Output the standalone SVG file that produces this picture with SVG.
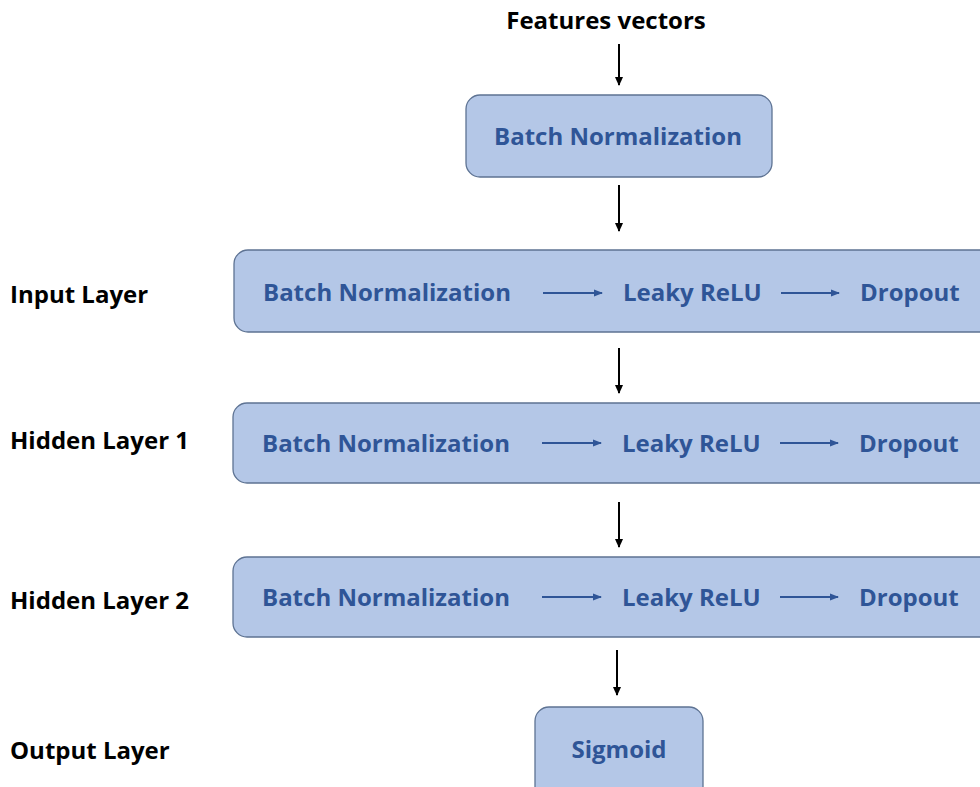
<svg xmlns="http://www.w3.org/2000/svg" width="980" height="787" viewBox="0 0 980 787">
<defs>
<marker id="ab" markerWidth="10" markerHeight="10" refX="8" refY="5" orient="auto" markerUnits="userSpaceOnUse"><path d="M0,1 L9,5 L0,9 Z" fill="#000"/></marker>
<marker id="abl" markerWidth="10" markerHeight="10" refX="8" refY="5" orient="auto" markerUnits="userSpaceOnUse"><path d="M0,1.5 L9,5 L0,8.5 Z" fill="#2f5597"/></marker>
</defs>
<style>
.box{fill:#b4c7e7;stroke:#5e7393;stroke-width:1.3}
.t{font-family:"Open Sans","Liberation Sans",sans-serif;font-weight:bold;font-size:24px;fill:#2f5597}
.lbl{font-family:"Open Sans","Liberation Sans",sans-serif;font-weight:bold;font-size:24px;fill:#000}
.c{stroke:#000;stroke-width:2;fill:none}
.h{stroke:#2f5597;stroke-width:2;fill:none}
</style>
<rect width="980" height="787" fill="#fff"/>
<g id="features"><text class="lbl" x="606" y="29" text-anchor="middle">Features vectors</text></g>
<g id="bn0"><rect class="box" x="466" y="95" width="306" height="82" rx="14"/><text class="t" x="618" y="145" text-anchor="middle">Batch Normalization</text></g>
<g id="input"><text class="lbl" x="10" y="303">Input Layer</text>
<rect class="box" x="234" y="250" width="770" height="82" rx="14"/>
<text class="t" x="263" y="301">Batch Normalization</text><text class="t" x="623" y="301">Leaky ReLU</text><text class="t" x="860" y="301">Dropout</text></g>
<g id="hidden1"><text class="lbl" x="10" y="449">Hidden Layer 1</text>
<rect class="box" x="233" y="403" width="771" height="80" rx="14"/>
<text class="t" x="262" y="452">Batch Normalization</text><text class="t" x="622" y="452">Leaky ReLU</text><text class="t" x="859" y="452">Dropout</text></g>
<g id="hidden2"><text class="lbl" x="10" y="609">Hidden Layer 2</text>
<rect class="box" x="233" y="557" width="771" height="80" rx="14"/>
<text class="t" x="262" y="606">Batch Normalization</text><text class="t" x="622" y="606">Leaky ReLU</text><text class="t" x="859" y="606">Dropout</text></g>
<g id="output"><text class="lbl" x="10" y="759">Output Layer</text>
<rect class="box" x="535" y="707" width="168" height="95" rx="14"/>
<text class="t" x="619" y="758" text-anchor="middle">Sigmoid</text></g>
<g id="connectors">
<line class="c" x1="619" y1="44" x2="619" y2="85" marker-end="url(#ab)"/>
<line class="c" x1="619" y1="185" x2="619" y2="231" marker-end="url(#ab)"/>
<line class="c" x1="619" y1="348" x2="619" y2="393" marker-end="url(#ab)"/>
<line class="c" x1="619" y1="502" x2="619" y2="547" marker-end="url(#ab)"/>
<line class="c" x1="617" y1="650" x2="617" y2="695" marker-end="url(#ab)"/>
<line class="h" x1="543" y1="293" x2="602" y2="293" marker-end="url(#abl)"/>
<line class="h" x1="781" y1="293" x2="839" y2="293" marker-end="url(#abl)"/>
<line class="h" x1="542" y1="443" x2="601" y2="443" marker-end="url(#abl)"/>
<line class="h" x1="780" y1="443" x2="838" y2="443" marker-end="url(#abl)"/>
<line class="h" x1="542" y1="597" x2="601" y2="597" marker-end="url(#abl)"/>
<line class="h" x1="780" y1="597" x2="838" y2="597" marker-end="url(#abl)"/>
</g>
</svg>
